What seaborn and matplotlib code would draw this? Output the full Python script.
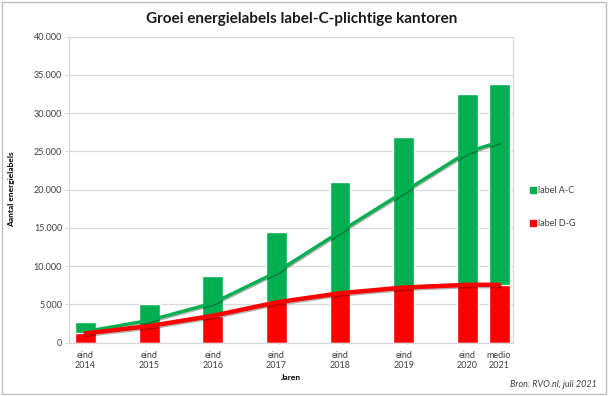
import numpy as np
import pandas as pd
import seaborn as sns
import matplotlib.pyplot as plt
import matplotlib.patheffects as pe
from matplotlib.patches import Patch, Rectangle
from matplotlib.ticker import FuncFormatter

# peildatum in jaren (eind 2014 ... eind 2020, medio 2021)
periode = [2014, 2015, 2016, 2017, 2018, 2019, 2020, 2020.5]
periode_labels = ["eind\n2014", "eind\n2015", "eind\n2016", "eind\n2017",
                  "eind\n2018", "eind\n2019", "eind\n2020", "medio\n2021"]
label_ac = [1450, 2900, 5150, 9200, 14500, 19700, 24900, 26250]
label_dg = [1200, 2150, 3500, 5250, 6450, 7200, 7550, 7550]

GREEN = "#00B050"
RED = "#FF0000"
GRID = "#D9D9D9"
TXT = "#404040"

df = pd.DataFrame({"periode": periode, "ac": label_ac, "dg": label_dg})
df["totaal"] = df["ac"] + df["dg"]

sns.set_style("white")
plt.rcParams["font.family"] = ["Lato", "DejaVu Sans"]

fig = plt.figure(figsize=(6.08, 3.96), dpi=100)
ax = fig.add_axes([0.1135, 0.135, 0.7303, 0.7722])

# stacked bars: total (green) behind, D-G (red) in front
sns.barplot(data=df, x="periode", y="totaal", native_scale=True, width=0.66,
            color=GREEN, saturation=1, errorbar=None, ax=ax, zorder=2)
sns.barplot(data=df, x="periode", y="dg", native_scale=True, width=0.66,
            color=RED, saturation=1, errorbar=None, ax=ax, zorder=2)

shadow = [pe.SimpleLineShadow(offset=(0.5, -1.0), shadow_color="black", alpha=0.3),
          pe.Normal()]
sns.lineplot(data=df, x="periode", y="ac", color=GREEN, lw=2.4, ax=ax,
             path_effects=shadow, zorder=4, solid_capstyle="round")
sns.lineplot(data=df, x="periode", y="dg", color=RED, lw=3.2, ax=ax,
             path_effects=shadow, zorder=5, solid_capstyle="round")

ax.set_xlim(2013.74, 2020.72)
ax.set_ylim(0, 40000)
ax.set_yticks(np.arange(0, 40001, 5000))
ax.yaxis.set_major_formatter(FuncFormatter(lambda v, p: f"{int(v):,}".replace(",", ".")))
ax.set_xticks(periode)
ax.set_xticklabels(periode_labels)
ax.tick_params(axis="x", length=0, pad=6, labelsize=6.5, colors=TXT)
ax.tick_params(axis="y", length=3, width=0.8, color=GRID, pad=2, labelsize=6.5,
               labelcolor=TXT, left=True)
ax.grid(axis="y", color=GRID, lw=0.9, zorder=0)
ax.set_axisbelow(True)
for s in ["left", "right", "bottom"]:
    ax.spines[s].set_color(GRID)
    ax.spines[s].set_linewidth(0.9)
ax.spines["top"].set_visible(False)

ax.set_xlabel("Jaren", fontsize=6, fontweight="bold", color="black", labelpad=3)
ax.set_ylabel("Aantal energielabels", fontsize=6, fontweight="bold", color="black")
ax.yaxis.set_label_coords(-0.122, 0.5)

fig.text(0.497, 0.953, "Groei energielabels label-C-plichtige kantoren",
         ha="center", va="center", fontsize=11, fontweight="bold", color="#1a1a1a")
fig.text(0.982, 0.03, "Bron: RVO.nl, juli 2021", ha="right", va="center",
         fontsize=6.5, style="italic", color=TXT)

handles = [Patch(color=GREEN, label="label A-C"), Patch(color=RED, label="label D-G")]
fig.legend(handles=handles, loc="center left", bbox_to_anchor=(0.872, 0.477),
           frameon=False, fontsize=6.5, handlelength=0.6, handleheight=0.6,
           handletextpad=0.3, labelspacing=2.6, borderpad=0, borderaxespad=0,
           labelcolor=TXT)

fig.patches.append(Rectangle((0.003, 0.004), 0.993, 0.992, transform=fig.transFigure,
                             fill=False, edgecolor="#BFBFBF", lw=1))

fig.savefig("out.png", dpi=100)
